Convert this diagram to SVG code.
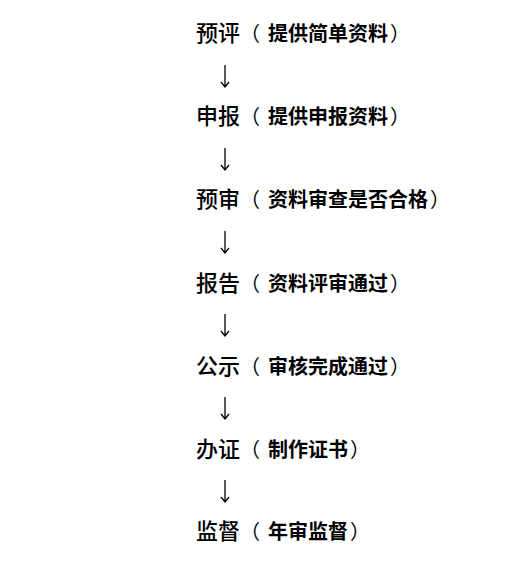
<svg xmlns="http://www.w3.org/2000/svg" width="531" height="564" viewBox="0 0 531 564">
<style>
.m{font-family:"Noto Sans CJK SC","Noto Sans",sans-serif;font-size:22px;font-weight:500;fill:#000}
.p{font-size:20px;font-weight:bold}
.b{font-size:20px;font-weight:normal}
.c{stroke:#000;stroke-width:1.3;fill:none}
</style>
<rect width="531" height="564" fill="#fff"/>
<g id="n1"><text class="m" x="196" y="41">预评<tspan class="b" x="240">（</tspan><tspan class="p" x="268">提供简单资料</tspan><tspan class="b" dx="2">）</tspan></text></g>
<g id="n2"><text class="m" x="196" y="124">申报<tspan class="b" x="240">（</tspan><tspan class="p" x="268">提供申报资料</tspan><tspan class="b" dx="2">）</tspan></text></g>
<g id="n3"><text class="m" x="196" y="207">预审<tspan class="b" x="240">（</tspan><tspan class="p" x="268">资料审查是否合格</tspan><tspan class="b" dx="2">）</tspan></text></g>
<g id="n4"><text class="m" x="196" y="291">报告<tspan class="b" x="240">（</tspan><tspan class="p" x="268">资料评审通过</tspan><tspan class="b" dx="2">）</tspan></text></g>
<g id="n5"><text class="m" x="196" y="374">公示<tspan class="b" x="240">（</tspan><tspan class="p" x="268">审核完成通过</tspan><tspan class="b" dx="2">）</tspan></text></g>
<g id="n6"><text class="m" x="196" y="457">办证<tspan class="b" x="240">（</tspan><tspan class="p" x="268">制作证书</tspan><tspan class="b" dx="2">）</tspan></text></g>
<g id="n7"><text class="m" x="196" y="539">监督<tspan class="b" x="240">（</tspan><tspan class="p" x="268">年审监督</tspan><tspan class="b" dx="2">）</tspan></text></g>
<g id="connectors">
<path class="c" d="M225 65V87M221 82L225 87L229 82"/>
<path class="c" d="M225 148V170M221 165L225 170L229 165"/>
<path class="c" d="M225 231V253M221 248L225 253L229 248"/>
<path class="c" d="M225 314V336M221 331L225 336L229 331"/>
<path class="c" d="M225 397V419M221 414L225 419L229 414"/>
<path class="c" d="M225 480V502M221 497L225 502L229 497"/>
</g>
</svg>
